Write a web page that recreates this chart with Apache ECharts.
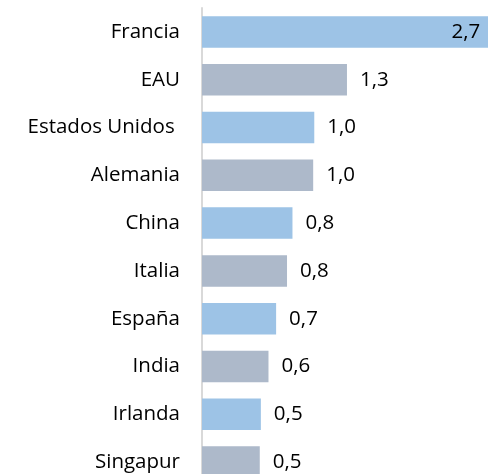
<!DOCTYPE html>
<html>
<head>
<meta charset="utf-8">
<script src="https://cdn.jsdelivr.net/npm/echarts@6/dist/echarts.min.js"></script>
<style>
  html, body { margin: 0; padding: 0; background: #fff; }
  #chart { width: 488px; height: 474px; }
</style>
</head>
<body>
<div id="chart"></div>
<script>
// categories top to bottom
var countries = ['Francia', 'EAU', 'Estados Unidos ', 'Alemania', 'China', 'Italia', 'España', 'India', 'Irlanda', 'Singapur'];
var values = [2.7, 1.33, 1.03, 1.02, 0.83, 0.78, 0.68, 0.61, 0.54, 0.53];

var blue = '#9DC3E6';
var gray = '#ADB9CA';
var font = 'Open Sans';

function fmt(v) {
  return v.toFixed(1).replace('.', ',');
}

var items = [];
for (var i = 0; i < values.length; i++) {
  var it = {
    value: values[i],
    itemStyle: { color: i % 2 === 0 ? blue : gray }
  };
  if (i === 0) {
    it.label = { position: 'insideRight', distance: 16 };
  }
  items.push(it);
}

var chart = echarts.init(document.getElementById('chart'), null, { renderer: 'canvas' });

var option = {
  backgroundColor: '#fff',
  animation: false,
  grid: {
    left: 202,
    top: 8,
    width: 327,
    height: 478,
    containLabel: false,
    outerBoundsMode: 'none'
  },
  xAxis: {
    type: 'value',
    min: 0,
    max: 3,
    show: false
  },
  yAxis: {
    type: 'category',
    inverse: true,
    data: countries,
    axisLine: { show: true, lineStyle: { color: '#d9d9d9', width: 2 } },
    axisTick: { show: false },
    splitLine: { show: false },
    axisLabel: {
      margin: 22,
      color: '#000',
      fontFamily: font,
      fontSize: 20.5
    }
  },
  series: [
    {
      type: 'bar',
      data: items,
      barCategoryGap: '34%',
      clip: false,
      label: {
        show: true,
        position: 'right',
        distance: 13,
        color: '#000',
        fontFamily: font,
        fontSize: 20.5,
        formatter: function (p) { return fmt(p.value); }
      }
    }
  ]
};

chart.setOption(option);
</script>
</body>
</html>
